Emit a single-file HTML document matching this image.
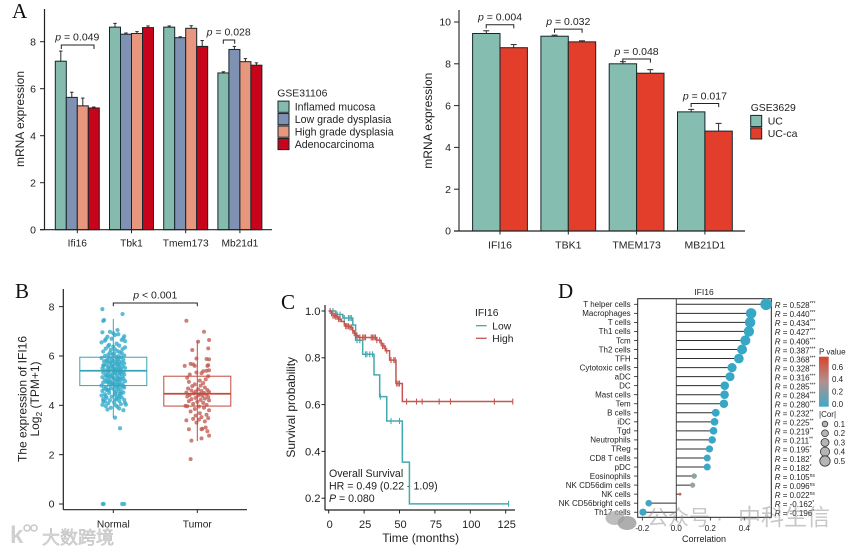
<!DOCTYPE html>
<html lang="en">
<head>
<meta charset="utf-8">
<title>IFI16 expression figure</title>
<style>
html,body{margin:0;padding:0;background:#fff;}
svg{display:block;font-family:"Liberation Sans","Noto Sans CJK SC",sans-serif;fill:#222;filter:blur(0.35px);}
.serif{font-family:"Liberation Serif",serif;font-size:21px;fill:#111;}
.wm{font-family:"Liberation Sans","Noto Sans CJK SC",sans-serif;}
</style>
</head>
<body>
<svg id="fig" xmlns="http://www.w3.org/2000/svg" width="858" height="552" viewBox="0 0 858 552">
  <rect x="0" y="0" width="858" height="552" fill="#ffffff"/>
  <text class="serif" x="12" y="18">A</text>
  <text class="serif" x="15" y="298">B</text>
  <text class="serif" x="281" y="309">C</text>
  <text class="serif" x="558" y="298">D</text>

  <text transform="translate(20,119) rotate(-90)" text-anchor="middle" dy=".35em" font-size="12">mRNA expression</text>
  <text transform="translate(428,120.7) rotate(-90)" text-anchor="middle" dy=".35em" font-size="12">mRNA expression</text>
  <text transform="translate(22.5,399) rotate(-90)" text-anchor="middle" dy=".35em" font-size="12">The expression of IFI16</text>
  <text transform="translate(35,399) rotate(-90)" text-anchor="middle" dy=".35em" font-size="12">Log<tspan font-size="8.5" dy="3">2</tspan><tspan dy="-3"> (TPM+1)</tspan></text>
  <text transform="translate(290.7,407.3) rotate(-90)" text-anchor="middle" dy=".35em" font-size="12">Survival probability</text>
  <text x="420.7" y="537.7" text-anchor="middle" dy=".35em" font-size="12">Time (months)</text>

  <text x="329" y="473.3" dy=".35em" font-size="10.6">Overall Survival</text>
  <text x="329" y="486" dy=".35em" font-size="10.6">HR = 0.49 (0.22 - 1.09)</text>
  <text x="329" y="498.3" dy=".35em" font-size="10.6"><tspan font-style="italic">P</tspan> = 0.080</text>

  <text x="475" y="312.3" dy=".35em" font-size="10.3">IFI16</text>
  <line x1="476" x2="486.7" y1="325.7" y2="325.7" stroke="#45A9B0" stroke-width="1.3"/>
  <text x="492.3" y="325.7" dy=".35em" font-size="10.3">Low</text>
  <line x1="476" x2="486.7" y1="338.3" y2="338.3" stroke="#C4574F" stroke-width="1.3"/>
  <text x="492.3" y="338.3" dy=".35em" font-size="10.3">High</text>

  <text x="704" y="292" text-anchor="middle" dy=".35em" font-size="8.5">IFI16</text>
  <text x="704" y="539" text-anchor="middle" dy=".35em" font-size="9">Correlation</text>

  <defs>
    <linearGradient id="pGrad" x1="0" y1="0" x2="0" y2="1">
      <stop offset="0" stop-color="#D9442E"/>
      <stop offset="0.5" stop-color="#B2918F"/>
      <stop offset="1" stop-color="#3FA8C8"/>
    </linearGradient>
  </defs>
  <text x="819" y="351.6" dy=".35em" font-size="8">P value</text>
  <rect x="819" y="356.7" width="9.7" height="50" fill="url(#pGrad)"/>
  <text x="819" y="414" dy=".35em" font-size="8">|Cor|</text>

  <g id="panelA1"></g>
  <g id="panelA2"></g>
  <g id="panelB"></g>
  <g id="panelC"></g>
  <g id="panelD"></g>

  <g>
    <text class="wm" x="10" y="543" font-size="24" font-weight="bold" fill="#cfcfcf">k</text>
    <circle cx="27" cy="528" r="3" fill="none" stroke="#c8c8c8" stroke-width="1.5"/>
    <circle cx="34" cy="528" r="3" fill="none" stroke="#c8c8c8" stroke-width="1.5"/>
    <text class="wm" x="42" y="544" font-size="18" fill="#dcdcdc" stroke="#b8b8b8" stroke-width="0.5">大数跨境</text>
  </g>
  <g>
    <ellipse cx="615" cy="518" rx="9.5" ry="7" fill="#a8a8a8" opacity="0.75"/>
    <ellipse cx="627" cy="523" rx="9.5" ry="7" fill="#a0a0a0" opacity="0.85"/>
    <text class="wm" x="647" y="525" font-size="21" fill="#8f8f8f" fill-opacity="0.5">公众号</text>
    <text class="wm" x="716" y="525" font-size="21" fill="#8f8f8f" fill-opacity="0.5">·</text>
    <text class="wm" x="738" y="525" font-size="23" fill="#8f8f8f" fill-opacity="0.5">中科生信</text>
  </g>
</svg>

<script>
// ---------- Panel A (GSE31106) data ----------
const a1Genes = ['Ifi16', 'Tbk1', 'Tmem173', 'Mb21d1'];
const a1Groups = ['Inflamed mucosa', 'Low grade dysplasia', 'High grade dysplasia', 'Adenocarcinoma'];
const a1Inflamed = [7.17, 8.62, 8.62, 6.67];
const a1Low = [5.63, 8.32, 8.17, 7.67];
const a1High = [5.27, 8.35, 8.57, 7.15];
const a1Adeno = [5.18, 8.6, 7.8, 7.0];
const a1InflamedErr = [0.43, 0.16, 0.05, 0.05];
const a1LowErr = [0.22, 0.05, 0.04, 0.13];
const a1HighErr = [0.33, 0.08, 0.11, 0.13];
const a1AdenoErr = [0.04, 0.07, 0.25, 0.1];
const a1YTicks = [0, 2, 4, 6, 8];

// ---------- Panel A (GSE3629) data ----------
const a2Genes = ['IFI16', 'TBK1', 'TMEM173', 'MB21D1'];
const a2Groups = ['UC', 'UC-ca'];
const a2UC = [9.45, 9.32, 8.0, 5.7];
const a2UCa = [8.77, 9.05, 7.55, 4.78];
const a2UCErr = [0.13, 0.05, 0.1, 0.12];
const a2UCaErr = [0.15, 0.05, 0.17, 0.37];
const a2YTicks = [0, 2, 4, 6, 8, 10];
const a2PValues = ['0.004', '0.032', '0.048', '0.017'];
const a2BracketLevel = [9.87, 9.66, 8.23, 6.1];

// ---------- Panel B data ----------
const boxCategories = ['Normal', 'Tumor'];
const boxQ1 = [4.8, 3.97];
const boxMedian = [5.4, 4.47];
const boxQ3 = [5.95, 5.18];
const boxWhiskerLow = [3.5, 2.55];
const boxWhiskerHigh = [7.5, 6.6];
const boxYTicks = [0, 2, 4, 6, 8];
const normalValues = [
 7.9,7.7,7.46,7.42,6.96,7.05,6.98,6.92,6.85,6.8,
 6.78,6.72,6.7,6.65,6.62,6.6,6.55,6.5,6.45,6.42,
 6.38,6.35,6.3,6.28,6.25,6.2,6.18,6.15,6.1,6.05,
 6.02,6.0,5.97,5.95,5.92,5.9,5.88,5.85,5.82,5.8,
 5.78,5.76,5.74,5.72,5.7,5.68,5.66,5.64,5.62,5.6,
 5.58,5.56,5.54,5.52,5.5,5.48,5.46,5.44,5.42,5.4,
 5.38,5.36,5.34,5.32,5.3,5.28,5.26,5.24,5.22,5.2,
 5.18,5.16,5.14,5.12,5.1,5.08,5.06,5.04,5.02,5.0,
 4.98,4.96,4.94,4.92,4.9,4.88,4.86,4.84,4.82,4.8,
 4.78,4.76,4.74,4.72,4.7,4.68,4.66,4.64,4.62,4.6,
 4.58,4.55,4.52,4.5,4.48,4.45,4.42,4.4,4.38,4.35,
 4.32,4.3,4.28,4.25,4.22,4.2,4.18,4.15,4.12,4.1,
 4.08,4.05,4.02,4.0,3.97,3.94,3.9,3.87,3.83,3.8,
 6.88,6.68,6.4,6.12,5.93,5.77,5.61,5.47,5.33,5.19,
 5.05,4.91,4.77,4.63,4.49,4.33,4.17,4.03,3.07,3.5,
 6.27,6.13,5.99,5.83,5.71,5.59,5.49,5.39,5.29,5.17,
 5.07,4.95,4.85,4.73,4.61,4.47,4.37,4.24,6.06,5.89,
 5.75,5.63,5.51,5.41,5.31,5.21,5.11,5.01,4.93,4.83,
 0,0,0,0
];
const normalJitter = [
 -.13,.11,-.11,-.12,-.13,.05,-.04,0,.02,.13,
 -.07,.12,-.02,.1,-.1,.14,-.14,.04,-.05,.07,
 0,.14,-.09,.11,-.03,.05,-.12,.08,.01,-.06,
 .13,-.1,.03,.09,-.14,-.02,.06,.12,-.07,0,
 -.11,.04,.1,-.04,.13,-.08,.02,.07,-.12,-.01,
 .11,-.06,.05,.14,-.13,.01,.09,-.03,-.1,.06,
 .03,-.07,.12,-.12,0,.08,-.04,.13,-.09,.04,
 -.02,.1,-.13,.06,-.06,.12,.01,-.1,.09,-.04,
 .14,-.08,.03,-.12,.07,-.01,.11,-.05,.05,-.14,
 .02,.1,-.09,.13,-.03,-.11,.06,.01,-.07,.09,
 -.13,.04,.12,-.05,.08,-.1,.02,-.14,.06,-.02,
 .1,-.08,.04,-.12,.13,-.04,.07,-.1,.01,.14,
 -.06,.09,-.13,.03,-.09,.05,-.03,.07,-.07,.12,
 .06,-.09,-.06,.1,-.05,.07,-.11,.03,.09,-.07,
 .05,-.02,.12,-.08,.02,.07,-.12,.15,.08,.02,
 .02,-.04,.06,-.08,.04,-.02,.08,-.06,.03,-.03,
 .07,-.07,.01,.05,-.05,.09,-.09,.03,-.01,.04,
 -.03,.06,-.06,.02,.08,-.08,.0,.05,-.04,.07,
 -.125,-.115,.105,.13
];
const tumorValues = [
 7.43,6.98,6.65,6.58,6.31,6.24,5.9,5.88,5.86,5.68,
 5.66,5.63,5.6,5.6,5.6,5.42,5.4,5.38,5.33,5.3,
 5.25,5.18,5.12,5.05,5.0,4.95,4.9,4.85,4.8,4.78,
 4.72,4.68,4.65,4.62,4.6,4.58,4.56,4.54,4.52,4.5,
 4.48,4.46,4.44,4.42,4.4,4.38,4.36,4.33,4.3,4.27,
 4.25,4.22,4.2,4.17,4.14,4.1,4.06,4.02,3.98,3.96,
 3.95,3.9,3.85,3.8,3.75,3.68,3.62,3.58,3.52,3.48,
 3.45,3.42,3.39,3.35,3.3,3.1,3.05,3.03,3.03,2.95,
 2.77,2.66,2.57,1.82
];
const tumorJitter = [
 -.13,.08,.14,.01,.13,-.06,-.01,.11,.14,-.08,
 -.05,.13,-.15,-.03,.12,.14,.11,.07,-.01,.05,
 -.09,.13,-.12,.1,.03,-.1,.07,-.03,.04,-.06,
 .09,-.11,.01,.12,-.07,.05,-.02,.14,-.13,.08,
 -.04,.03,.11,-.09,.01,.06,-.12,.13,-.02,.09,
 -.07,.04,.14,-.1,0,.07,-.05,.11,-.14,-.12,
 .02,.08,-.03,.14,-.08,.03,.11,-.02,.05,.13,
 -.05,.02,-.13,.09,-.01,.1,.06,-.1,.05,.12,
 .14,.05,-.07,-.08
];

// ---------- Panel C data ----------
const survXTicks = [0, 25, 50, 75, 100, 125];
const survYTicks = [0.2, 0.4, 0.6, 0.8, 1.0];
const lowTimes = [0, 5, 10, 17, 19, 24, 32, 36, 41, 52, 57];
const lowSurv = [1, 0.985, 0.97, 0.94, 0.875, 0.815, 0.727, 0.634, 0.53, 0.354, 0.176];
const lowEnd = 127;
const lowCensor = [3, 6, 8, 11, 14, 15, 16, 20, 22, 26, 27, 29, 31, 36.5, 44, 50, 127];
const highTimes = [0, 2, 3, 5, 7, 9, 11, 12, 15, 17, 18, 19, 21, 34, 37, 38, 40, 43, 47.5, 52];
const highSurv = [1, 0.99, 0.98, 0.975, 0.965, 0.955, 0.945, 0.935, 0.93, 0.915, 0.905, 0.895, 0.887, 0.875, 0.862, 0.85, 0.83, 0.79, 0.69, 0.613];
const highEnd = 130;
const highCensor = [1, 2, 3, 4, 5, 6, 7, 8, 11, 12, 13, 14, 15, 16, 17, 18, 19, 20, 22, 24, 25, 26, 30, 31, 32, 33, 34, 36, 37, 38, 39, 41, 44, 46, 47, 48, 49, 50, 55, 62, 66, 78, 86, 117, 130];

// ---------- Panel D data ----------
const cellTypes = ['T helper cells','Macrophages','T cells','Th1 cells','Tcm','Th2 cells','TFH','Cytotoxic cells','aDC','DC','Mast cells','Tem','B cells','iDC','Tgd','Neutrophils','TReg','CD8 T cells','pDC','Eosinophils','NK CD56dim cells','NK cells','NK CD56bright cells','Th17 cells'];
const correlations = [0.528,0.44,0.434,0.427,0.406,0.387,0.368,0.328,0.316,0.285,0.284,0.28,0.232,0.225,0.219,0.211,0.195,0.182,0.182,0.105,0.096,0.022,-0.162,-0.196];
const rLabels = ['0.528','0.440','0.434','0.427','0.406','0.387','0.368','0.328','0.316','0.285','0.284','0.280','0.232','0.225','0.219','0.211','0.195','0.182','0.182','0.105','0.096','0.022','-0.162','-0.196'];
const significance = ['***','***','***','***','***','***','***','***','***','***','***','***','**','**','**','**','*','*','*','ns','ns','ns','*','*'];
const pValues = [0,0,0,0,0,0,0,0,0,0,0,0,0.001,0.001,0.002,0.002,0.01,0.02,0.02,0.22,0.26,0.72,0.03,0.01];
const corXTicks = ['-0.2', '0.0', '0.2', '0.4'];
const pLegendTicks = ['0.6', '0.4', '0.2', '0.0'];
const corLegendSizes = ['0.1', '0.2', '0.3', '0.4', '0.5'];

// ---------- helpers ----------
const NS = 'http://www.w3.org/2000/svg';
function mk(tag, attrs, parent) {
  const el = document.createElementNS(NS, tag);
  for (const k in attrs) el.setAttribute(k, attrs[k]);
  parent.appendChild(el);
  return el;
}
function txt(x, y, str, size, anchor, parent) {
  const el = mk('text', {x: x, y: y, dy: '.35em', 'font-size': size, 'text-anchor': anchor}, parent);
  el.textContent = str;
  return el;
}
function pText(x, y, value, size, parent) {
  const el = mk('text', {x: x, y: y, dy: '.35em', 'font-size': size, 'text-anchor': 'middle'}, parent);
  const it = mk('tspan', {'font-style': 'italic'}, el);
  it.textContent = 'p';
  const rest = mk('tspan', {}, el);
  rest.textContent = ' ' + value;
  return el;
}

// ---------- Panel A1 ----------
(function () {
  const g = document.getElementById('panelA1');
  const y = v => 229.7 - 23.5 * v;
  const gx = i => 77.3 + 54.2 * i;
  const barW = 11;
  const series = [a1Inflamed, a1Low, a1High, a1Adeno];
  const errs = [a1InflamedErr, a1LowErr, a1HighErr, a1AdenoErr];
  const fills = ['#85BBAE', '#7F92B3', '#E8967D', '#C8041C'];
  series.forEach((vals, s) => {
    vals.forEach((v, i) => {
      const x = gx(i) - 2 * barW + s * barW;
      const cx = x + barW / 2;
      const err = mk('line', {x1: cx, x2: cx, y1: y(v), y2: y(v + errs[s][i]), stroke: '#2a2a2a', 'stroke-width': 1}, g);
      
      
      const cap = mk('line', {x1: cx - 1.7, x2: cx + 1.7, y1: y(v + errs[s][i]), y2: y(v + errs[s][i]), stroke: '#2a2a2a', 'stroke-width': 1}, g);
      
      
      const bar = mk('rect', {x: x, y: y(v), width: barW, height: y(0) - y(v), fill: fills[s], stroke: '#14262a', 'stroke-width': 1}, g);
      
      
    });
  });
  const yAxis = mk('line', {x1: 44.5, x2: 44.5, y1: 9, y2: y(0), stroke: '#222', 'stroke-width': 1.2}, g);
  
  
  const xAxis = mk('line', {x1: 40, x2: 272, y1: y(0), y2: y(0), stroke: '#222', 'stroke-width': 1.2}, g);
  
  
  a1YTicks.forEach(t => {
    const tick = mk('line', {x1: 40, x2: 44.5, y1: y(t), y2: y(t), stroke: '#222', 'stroke-width': 1}, g);
    
    
    const lab = txt(36, y(t), String(t), 10.5, 'end', g);
    
    
  });
  a1Genes.forEach((name, i) => {
    const tick = mk('line', {x1: gx(i), x2: gx(i), y1: y(0), y2: y(0) + 3.5, stroke: '#222', 'stroke-width': 1}, g);
    
    
    const lab = txt(gx(i), 243, name, 10.2, 'middle', g);
    
    
  });
  const b1 = mk('path', {d: 'M61.3 49V45H94V49', fill: 'none', stroke: '#222', 'stroke-width': 1}, g);
  
  
  const p1 = pText(77.3, 37, '= 0.049', 10.5, g);
  
  
  const b2 = mk('path', {d: 'M223.3 43.7V40H234.7V43.7', fill: 'none', stroke: '#222', 'stroke-width': 1}, g);
  
  
  const p2 = pText(228.7, 32, '= 0.028', 10.5, g);
  
  
  const title = txt(277.3, 93, 'GSE31106', 10.4, 'start', g);
  
  
  a1Groups.forEach((name, i) => {
    const ry = 106.7 + i * 12.45;
    const sw = mk('rect', {x: 278, y: ry - 5.6, width: 11, height: 11.2, fill: fills[i], stroke: '#14262a', 'stroke-width': 1}, g);
    
    
    const lab = txt(294.7, ry, name, 10.6, 'start', g);
    
    
  });
})();

// ---------- Panel A2 ----------
(function () {
  const g = document.getElementById('panelA2');
  const y = v => 231 - 20.9 * v;
  const gx = i => 500 + 68.3 * i;
  const barW = 27.4;
  const series = [a2UC, a2UCa];
  const errs = [a2UCErr, a2UCaErr];
  const fills = ['#85BDB0', '#E23E2B'];
  series.forEach((vals, s) => {
    vals.forEach((v, i) => {
      const x = gx(i) - barW + s * barW;
      const cx = x + barW / 2;
      const err = mk('line', {x1: cx, x2: cx, y1: y(v), y2: y(v + errs[s][i]), stroke: '#2a2a2a', 'stroke-width': 1}, g);
      
      
      const cap = mk('line', {x1: cx - 3, x2: cx + 3, y1: y(v + errs[s][i]), y2: y(v + errs[s][i]), stroke: '#2a2a2a', 'stroke-width': 1}, g);
      
      
      const bar = mk('rect', {x: x, y: y(v), width: barW, height: y(0) - y(v), fill: fills[s], stroke: '#14262a', 'stroke-width': 1}, g);
      
      
    });
  });
  const yAxis = mk('line', {x1: 459, x2: 459, y1: 10, y2: y(0), stroke: '#333', 'stroke-width': 1.2}, g);
  
  
  const xAxis = mk('line', {x1: 454, x2: 745, y1: y(0), y2: y(0), stroke: '#222', 'stroke-width': 1.2}, g);
  
  
  a2YTicks.forEach(t => {
    const tick = mk('line', {x1: 454, x2: 459, y1: y(t), y2: y(t), stroke: '#222', 'stroke-width': 1}, g);
    
    
    const lab = txt(451, y(t), String(t), 10.5, 'end', g);
    
    
  });
  a2Genes.forEach((name, i) => {
    const tick = mk('line', {x1: gx(i), x2: gx(i), y1: y(0), y2: y(0) + 3.5, stroke: '#222', 'stroke-width': 1}, g);
    
    
    const lab = txt(gx(i), 245, name, 10.5, 'middle', g);
    
    
    const top = y(a2BracketLevel[i]);
    const br = mk('path', {d: `M${gx(i) - 13.8} ${top + 3.6}V${top}H${gx(i) + 13.8}V${top + 3.6}`, fill: 'none', stroke: '#222', 'stroke-width': 1}, g);
    
    
    const p = pText(gx(i), top - 7.7, '= ' + a2PValues[i], 10.5, g);
    
    
  });
  const title = txt(750.7, 107.3, 'GSE3629', 10.4, 'start', g);
  
  
  a2Groups.forEach((name, i) => {
    const ry = 121 + i * 12.4;
    const sw = mk('rect', {x: 750.7, y: ry - 5.6, width: 11, height: 11.2, fill: fills[i], stroke: '#14262a', 'stroke-width': 1}, g);
    
    
    const lab = txt(767.7, ry, name, 10.5, 'start', g);
    
    
  });
})();

// ---------- Panel B ----------
(function () {
  const g = document.getElementById('panelB');
  const y = v => 504 - 24.67 * v;
  const cx = i => 113.3 + 84 * i;
  const dotColors = ['#36ABCB', '#C25F55'];
  const lineColors = ['#38A3B5', '#C4483C'];
  const boxW = 67;
  normalValues.forEach((v, k) => {
    const d = mk('circle', {cx: cx(normalJitter[k]), cy: y(v), r: 2.1, fill: dotColors[0], 'fill-opacity': 0.8}, g);
    
    
  });
  tumorValues.forEach((v, k) => {
    const d = mk('circle', {cx: cx(1 + tumorJitter[k]), cy: y(v), r: 2, fill: dotColors[1], 'fill-opacity': 0.8}, g);
    
    
  });
  boxCategories.forEach((name, i) => {
    const c = lineColors[i];
    const wh = mk('line', {x1: cx(i), x2: cx(i), y1: y(boxWhiskerLow[i]), y2: y(boxWhiskerHigh[i]), stroke: c, 'stroke-width': 1}, g);
    
    
    const box = mk('rect', {x: cx(i) - boxW / 2, y: y(boxQ3[i]), width: boxW, height: y(boxQ1[i]) - y(boxQ3[i]), fill: 'none', stroke: c, 'stroke-width': 1}, g);
    
    
    const med = mk('line', {x1: cx(i) - boxW / 2, x2: cx(i) + boxW / 2, y1: y(boxMedian[i]), y2: y(boxMedian[i]), stroke: c, 'stroke-width': 1.8}, g);
    
    
    const tick = mk('line', {x1: cx(i), x2: cx(i), y1: 509.7, y2: 513, stroke: '#222', 'stroke-width': 1}, g);
    
    
    const lab = txt(cx(i), 524, name, 10.2, 'middle', g);
    
    
  });
  const yAxis = mk('line', {x1: 63.3, x2: 63.3, y1: 289, y2: 509.7, stroke: '#222', 'stroke-width': 1.2}, g);
  
  
  const xAxis = mk('line', {x1: 63.3, x2: 247, y1: 509.7, y2: 509.7, stroke: '#222', 'stroke-width': 1.2}, g);
  
  
  boxYTicks.forEach(t => {
    const tick = mk('line', {x1: 59, x2: 63.3, y1: y(t), y2: y(t), stroke: '#222', 'stroke-width': 1}, g);
    
    
    const lab = txt(54.5, y(t), String(t), 10.5, 'end', g);
    
    
  });
  const br = mk('path', {d: `M${cx(0)} 306.3V303H${cx(1)}V306.3`, fill: 'none', stroke: '#222', 'stroke-width': 1}, g);
  
  
  const p = pText(155.3, 295, '< 0.001', 10.5, g);
  
  
})();

// ---------- Panel C ----------
(function () {
  const g = document.getElementById('panelC');
  const x = t => 328.7 + 1.416 * t;
  const y = s => 311 + (1 - s) * 234;
  function stepPath(times, surv, end) {
    let d = `M${x(times[0])} ${y(surv[0])}`;
    for (let i = 1; i < times.length; i++) d += `H${x(times[i])}V${y(surv[i])}`;
    return d + `H${x(end)}`;
  }
  function survAt(times, surv, t) {
    let s = surv[0];
    for (let i = 0; i < times.length; i++) if (times[i] <= t) s = surv[i];
    return s;
  }
  const lowColor = '#45A9B0';
  const highColor = '#C4574F';
  const lowLine = mk('path', {d: stepPath(lowTimes, lowSurv, lowEnd), fill: 'none', stroke: lowColor, 'stroke-width': 1.5}, g);
  
  
  lowCensor.forEach(t => {
    const s = survAt(lowTimes, lowSurv, t);
    const m = mk('line', {x1: x(t), x2: x(t), y1: y(s) - 3, y2: y(s) + 3, stroke: lowColor, 'stroke-width': 1.1}, g);
    
    
  });
  const highLine = mk('path', {d: stepPath(highTimes, highSurv, highEnd), fill: 'none', stroke: highColor, 'stroke-width': 1.5}, g);
  
  
  highCensor.forEach(t => {
    const s = survAt(highTimes, highSurv, t);
    const m = mk('line', {x1: x(t), x2: x(t), y1: y(s) - 3, y2: y(s) + 3, stroke: highColor, 'stroke-width': 1.1}, g);
    
    
  });
  const yAxis = mk('line', {x1: 325, x2: 325, y1: 305, y2: 510, stroke: '#222', 'stroke-width': 1.2}, g);
  
  
  const xAxis = mk('line', {x1: 325, x2: 515, y1: 510, y2: 510, stroke: '#222', 'stroke-width': 1.2}, g);
  
  
  survYTicks.forEach(t => {
    const tick = mk('line', {x1: 321.5, x2: 325, y1: y(t), y2: y(t), stroke: '#222', 'stroke-width': 1}, g);
    
    
    const lab = txt(320.5, y(t), t.toFixed(1), 11.2, 'end', g);
    
    
  });
  survXTicks.forEach(t => {
    const tick = mk('line', {x1: x(t), x2: x(t), y1: 510, y2: 513.5, stroke: '#222', 'stroke-width': 1}, g);
    
    
    const lab = txt(x(t) + 1, 524, String(t), 11, 'middle', g);
    
    
  });
})();

// ---------- Panel D ----------
(function () {
  const g = document.getElementById('panelD');
  const x = r => 676.3 + 170 * r;
  const y = i => 304.3 + 9.04 * i;
  const radius = r => 0.3 + 7.5 * Math.sqrt(Math.abs(r));
  function lerp(a, b, t) { return a.map((v, i) => Math.round(v + (b[i] - v) * t)); }
  function pColor(p) {
    const lo = [55, 167, 198], mid = [150, 165, 160], hi = [205, 100, 55];
    const c = p < 0.25 ? lerp(lo, mid, p / 0.25) : lerp(mid, hi, Math.min(1, (p - 0.25) / 0.45));
    return `rgb(${c[0]},${c[1]},${c[2]})`;
  }
  const frame = mk('rect', {x: 637.7, y: 298.7, width: 133.6, height: 218.6, fill: 'none', stroke: '#222', 'stroke-width': 1}, g);
  
  
  const zero = mk('line', {x1: x(0), x2: x(0), y1: 298.7, y2: 517.3, stroke: '#444', 'stroke-width': 1}, g);
  
  
  cellTypes.forEach((name, i) => {
    const r = correlations[i];
    const tick = mk('line', {x1: 634, x2: 637.7, y1: y(i), y2: y(i), stroke: '#222', 'stroke-width': 0.8}, g);
    
    
    const lab = txt(630.7, y(i), name, 8, 'end', g);
    
    
    const stem = mk('line', {x1: x(0), x2: x(r), y1: y(i), y2: y(i), stroke: '#2c2c2c', 'stroke-width': 1}, g);
    
    
    const dot = mk('circle', {cx: x(r), cy: y(i), r: radius(r), fill: pColor(pValues[i])}, g);
    
    
    const t = mk('text', {x: 774.7, y: y(i) + 1, dy: '.35em', 'font-size': 8}, g);
    
    
    const ri = mk('tspan', {'font-style': 'italic'}, t);
    ri.textContent = 'R';
    const rv = mk('tspan', {}, t);
    rv.textContent = ' = ' + rLabels[i];
    const st = mk('tspan', {dy: -3, 'font-size': 5}, t);
    st.textContent = significance[i];
  });
  corXTicks.forEach(label => {
    const v = parseFloat(label);
    const tick = mk('line', {x1: x(v), x2: x(v), y1: 517.3, y2: 520.5, stroke: '#222', 'stroke-width': 0.8}, g);
    
    
    const lab = txt(x(v), 528, label, 8, 'middle', g);
    
    
  });
  pLegendTicks.forEach(label => {
    const v = parseFloat(label);
    const lab = txt(832, 404 - 61.5 * v, label, 8, 'start', g);
    
    
  });
  corLegendSizes.forEach((label, i) => {
    const v = parseFloat(label);
    const ly = 424 + i * 9.25;
    const c = mk('circle', {cx: 825, cy: ly, r: 2.2 + 6 * v, fill: '#b5b5b5', stroke: '#333', 'stroke-width': 0.8}, g);
    
    
    const lab = txt(834, ly, label, 8, 'start', g);
    
    
  });
})();
</script>
</body>
</html>
